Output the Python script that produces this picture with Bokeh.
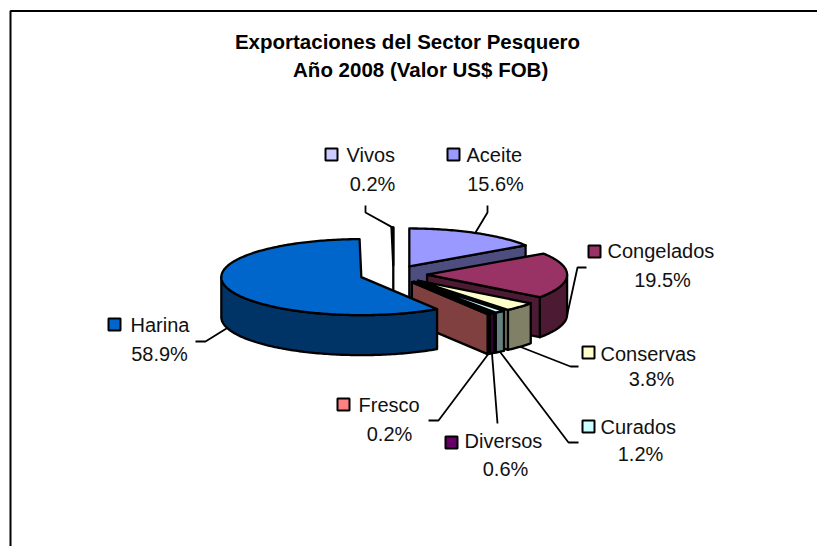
import math
from bokeh.plotting import figure
from bokeh.models import Range1d
from bokeh.embed import file_html
from bokeh.resources import INLINE
from bokeh.core.properties import value

title_lines = ["Exportaciones del Sector Pesquero", "Año 2008  (Valor US$ FOB)"]
categories = ["Aceite", "Congelados", "Conservas", "Curados", "Diversos", "Fresco", "Harina", "Vivos"]
percent = [15.6, 19.5, 3.8, 1.2, 0.6, 0.2, 58.9, 0.2]

top_colors = ["#9999FF", "#993366", "#FFFFCC", "#CCFFFF", "#660066", "#FF8080", "#0066CC", "#CCCCFF"]
wall_colors = ["#4D4D80", "#4D1A33", "#808066", "#668080", "#330033", "#804040", "#003366", "#666680"]

# layout (screen pixels)
W, H = 817, 546
CX, CY, A, B, DEPTH, EXPLODE = 393, 274, 140, 38, 40, 0.24
LABEL_SIZE = "20px"
TITLE_SIZE = "20.5px"
TEXT_DY = -7
square_xy = {"Aceite": (447, 148), "Congelados": (588, 245), "Conservas": (582, 346), "Curados": (582, 420),
             "Diversos": (445, 436), "Fresco": (337, 398), "Harina": (108, 318), "Vivos": (325, 148)}
name_xy = {"Aceite": (466, 161), "Congelados": (607, 257), "Conservas": (600, 360), "Curados": (600, 433),
           "Diversos": (464, 447), "Fresco": (358, 411), "Harina": (130, 331), "Vivos": (346, 161)}
pct_xy = {"Aceite": (495, 190), "Congelados": (662, 286), "Conservas": (651, 385), "Curados": (640, 460),
          "Diversos": (505, 475), "Fresco": (389, 440), "Harina": (159, 360), "Vivos": (372, 190)}
# bend and end of each leader line
leader_xy = {"Aceite": [(487, 212), (487, 205)], "Congelados": [(577, 267), (586, 267)],
             "Conservas": [(570, 366), (578, 366)], "Curados": [(568, 442), (578, 442)],
             "Diversos": [(497, 423)], "Fresco": [(438, 420), (428, 420)],
             "Harina": [(205, 341), (195, 341)], "Vivos": [(365, 212), (365, 205)]}
title_xy = [(407, 48), (423, 76)]

p = figure(width=W, height=H, x_range=Range1d(0, W), y_range=Range1d(H, 0),
           output_backend="svg", toolbar_location=None, min_border=0)
p.axis.visible = False
p.grid.visible = False
p.outline_line_color = None
p.background_fill_color = "white"

# chart frame (cut off at the right and bottom of the page)
p.line([10, 10, W], [H, 10.5, 10.5], line_color="black", line_width=2)

total = sum(percent)
edges = [0.0]
for v in percent:
    edges.append(edges[-1] + v / total * 360)

def pt(ax, ay, deg):
    r = math.radians(deg)
    return ax + A * math.sin(r), ay - B * math.cos(r)

def apex(mid):
    r = math.radians(mid)
    return CX + EXPLODE * A * math.sin(r), CY - EXPLODE * B * math.cos(r)

def arc(ax, ay, d0, d1):
    n = max(2, int(abs(d1 - d0)) + 2)
    return [pt(ax, ay, d0 + (d1 - d0) * i / (n - 1)) for i in range(n)]

def poly(points, fill):
    p.patch([q[0] for q in points], [q[1] for q in points], fill_color=fill,
            line_color="black", line_width=2.3, line_join="round")

draw_order = ["Vivos", "Aceite", "Congelados", "Conservas", "Curados", "Diversos", "Fresco", "Harina"]
leader_start = {}
for name in draw_order:
    i = categories.index(name)
    d0, d1 = edges[i], edges[i + 1]
    mid = (d0 + d1) / 2
    ax, ay = apex(mid)
    # outer rim
    r0, r1 = max(d0, 90), min(d1, 270)
    if r1 > r0:
        top = arc(ax, ay, r0, r1)
        poly(top + [(x, y + DEPTH) for x, y in reversed(top)], wall_colors[i])
    # end wall
    if d1 <= 180 or d1 >= 359.9:
        ex, ey = pt(ax, ay, d1)
        poly([(ax, ay), (ex, ey), (ex, ey + DEPTH), (ax, ay + DEPTH)], wall_colors[i])
    # top face
    poly([(ax, ay)] + arc(ax, ay, d0, d1), top_colors[i])
    mx, my = pt(ax, ay, mid)
    leader_start[name] = (mx, my + (DEPTH if 60 < mid < 300 else 0))

font = value("Liberation Sans")
for k, name in enumerate(categories):
    pts = [leader_start[name]] + leader_xy[name]
    p.line([q[0] for q in pts], [q[1] for q in pts], line_color="black", line_width=1.8)
    sx, sy = square_xy[name]
    p.patch([sx, sx + 12, sx + 12, sx], [sy, sy, sy + 12, sy + 12], fill_color=top_colors[k],
            line_color="black", line_width=2)
    nx, ny = name_xy[name]
    p.text([nx], [ny + TEXT_DY], text=[name], text_font=font, text_font_size=LABEL_SIZE,
           text_color="#111111", text_align="left", text_baseline="alphabetic")
    tx, ty = pct_xy[name]
    p.text([tx], [ty + TEXT_DY], text=[f"{percent[k]:.1f}%"], text_font=font, text_font_size=LABEL_SIZE,
           text_color="#111111", text_align="center", text_baseline="alphabetic")

for line, (tx, ty) in zip(title_lines, title_xy):
    p.text([tx], [ty + TEXT_DY], text=[line], text_font=font, text_font_size=TITLE_SIZE, text_font_style="bold",
           text_color="black", text_align="center", text_baseline="alphabetic")

open("out.html", "w").write(file_html(p, INLINE))
